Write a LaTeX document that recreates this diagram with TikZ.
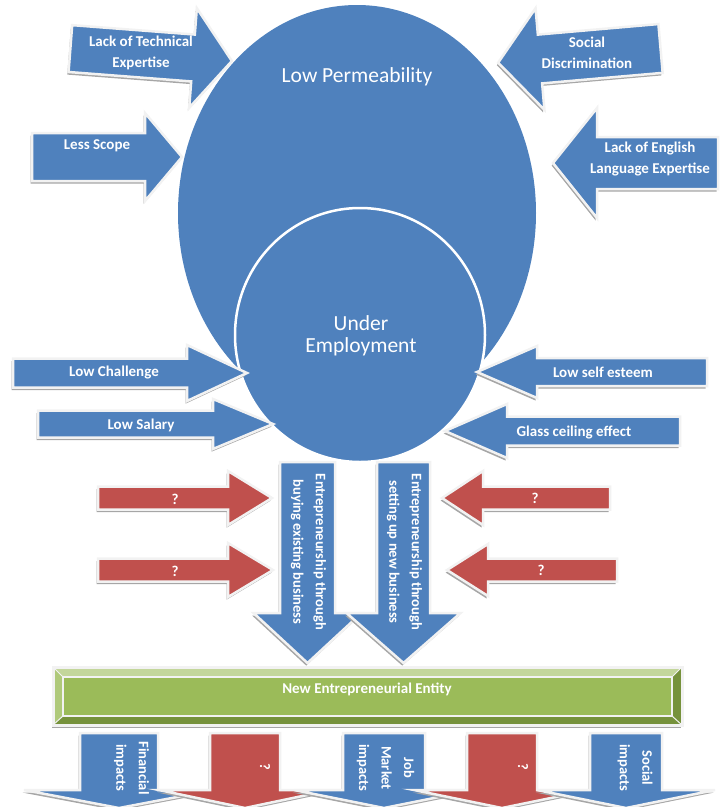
\documentclass[tikz,border=0pt]{standalone}
\usepackage{fontspec}
\setmainfont{Carlito}
\usetikzlibrary{shapes.geometric}
\definecolor{ablue}{HTML}{4F81BD}
\definecolor{ared}{HTML}{C0504D}
\definecolor{agreen}{HTML}{9BBB59}
\definecolor{agreenlt}{HTML}{C3D69B}
\definecolor{agreenmd}{HTML}{AFC97A}
\definecolor{agreendk}{HTML}{76923C}
\definecolor{shadowgray}{HTML}{A6A6A6}
\definecolor{edgewhite}{HTML}{F2F2F2}
\tikzset{
  lbl/.style={text=white, font=\fontsize{15}{20.5}\selectfont\bfseries, align=center, inner sep=0pt},
  vlbl/.style={lbl, rotate=-90, font=\fontsize{14.5}{22.5}\selectfont\bfseries},
  biglbl/.style={text=white, font=\fontsize{21.5}{22}\selectfont, align=center, inner sep=0pt},
  arrowbody/.style={draw=edgewhite, line width=2.5pt, line join=miter},
}
% #1 x, #2 y of head-base centre, #3 rotation, #4 fill, #5 body length, #6 body half height, #7 head length, #8 head half height
\newcommand\blockarrow[8]{%
  \begin{scope}[shift={({#1-1.3},{#2+2.6})}, rotate=#3]
    \fill[shadowgray] (-#5,-#6) -- (0,-#6) -- (0,-#8) -- (#7,0) -- (0,#8) -- (0,#6) -- (-#5,#6) -- cycle;
  \end{scope}
  \begin{scope}[shift={(#1,#2)}, rotate=#3]
    \filldraw[arrowbody, fill=#4] (-#5,-#6) -- (0,-#6) -- (0,-#8) -- (#7,0) -- (0,#8) -- (0,#6) -- (-#5,#6) -- cycle;
  \end{scope}}
\begin{document}
\begin{tikzpicture}[x=1pt,y=-1pt]
\useasboundingbox (0,0) rectangle (720,807);
\begin{scope}
\clip (0,0) rectangle (720,807);
% main shapes
\node (perm) [ellipse, fill=ablue, minimum width=358pt, minimum height=416pt, inner sep=0pt, outer sep=0pt] at (357,213) {};
\node (under) [ellipse, fill=ablue, draw=white, line width=2.5pt, minimum width=250pt, minimum height=254pt, inner sep=0pt] at (360,335) {};
\node[biglbl] (permtxt) at (357,77) {Low Permeability};
\node[biglbl] (undertxt) at (361,336) {Under\\Employment};

% top arrows
\blockarrow{193}{58}{-4.4}{ablue}{123}{23.5}{39}{50}
\node[lbl] (t1) at (141,53) {Lack of Technical\\Expertise};
\blockarrow{145}{157}{0}{ablue}{113}{24}{37}{44}
\node[lbl] (t2) at (97,146) {Less Scope};
\blockarrow{540}{59}{185}{ablue}{121}{24.5}{42}{51}
\node[lbl] (t3) at (587,53) {Social\\Discrimination};
\blockarrow{597}{163}{180}{ablue}{121}{26}{44}{55}
\node[lbl] (t4) at (650,159) {Lack of English\\Language Expertise};

% middle arrows
\blockarrow{187}{373}{0}{ablue}{174}{14.5}{60}{28}
\node[lbl] (t5) at (114,373) {Low Challenge};
\blockarrow{213}{424}{0}{ablue}{175}{13.5}{60}{25}
\node[lbl] (t6) at (141,425) {Low Salary};
\blockarrow{537}{372}{180}{ablue}{170}{14}{60}{26}
\node[lbl] (t7) at (603,372) {Low self esteem};
\blockarrow{507}{431}{180}{ablue}{173}{14.5}{62}{27}
\node[lbl] (t8) at (574,432) {Glass ceiling effect};

% vertical arrows
\blockarrow{307.5}{613}{-90}{ablue}{151}{27.5}{50}{54}
\blockarrow{403.5}{613}{-90}{ablue}{151}{26.5}{50}{57}
\node[vlbl] (v1) at (308.5,552) {Entrepreneurship through\\buying existing business};
\node[vlbl] (v2) at (404.5,552) {Entrepreneurship through\\setting up new business};

% red arrows
\blockarrow{228}{498}{0}{ared}{130}{11.5}{44}{27}
\node[lbl] (q1) at (175,499) {?};
\blockarrow{228}{570}{0}{ared}{130}{11.5}{45}{27}
\node[lbl] (q2) at (175,571) {?};
\blockarrow{483}{498}{180}{ared}{127}{11.5}{41}{27}
\node[lbl] (q3) at (535,498) {?};
\blockarrow{488}{570}{180}{ared}{129}{11.5}{41}{26}
\node[lbl] (q4) at (541,570) {?};

% green box
\fill[shadowgray] (51.7,669.6) rectangle (680.7,727.6);
\fill[agreen] (53,667) rectangle (682,725);
\fill[agreenlt] (53,667) -- (682,667) -- (672,677) -- (63,677) -- cycle;
\fill[agreenmd] (53,667) -- (63,677) -- (63,716) -- (53,725) -- cycle;
\fill[agreendk] (53,725) -- (63,716) -- (672,716) -- (682,725) -- cycle;
\fill[agreendk] (682,667) -- (672,677) -- (672,716) -- (682,725) -- cycle;
\draw[edgewhite, line width=2pt] (63,677) rectangle (672,716);
\draw[edgewhite, line width=1pt] (53,667) -- (63,677) (682,667) -- (672,677) (53,725) -- (63,716) (682,725) -- (672,716);
\draw[edgewhite, line width=3pt] (53,667) rectangle (682,725);
\node[lbl] (ne) at (367,689) {New Entrepreneurial Entity};

% bottom arrows
\blockarrow{119}{790}{-90}{ablue}{57}{39}{18}{95}
\node[vlbl] (b1) at (131.5,768) {Financial\\impacts};
\blockarrow{245}{790}{-90}{ared}{57}{35}{18}{86}
\node[vlbl] (b2) at (265,767) {?};
\blockarrow{384}{790}{-90}{ablue}{57}{41}{18}{90}
\node[vlbl] (b3) at (385.5,768) {Job\\Market\\impacts};
\blockarrow{502}{790}{-90}{ared}{57}{35}{18}{88}
\node[vlbl] (b4) at (523,767) {?};
\blockarrow{626}{790}{-90}{ablue}{57}{36}{18}{89}
\node[vlbl] (b5) at (635,768) {Social\\impacts};
\end{scope}
\end{tikzpicture}
\end{document}
